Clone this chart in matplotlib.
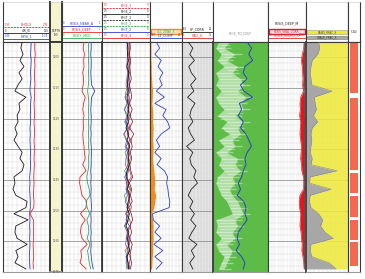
import numpy as np
import matplotlib
matplotlib.use('Agg')
import matplotlib.pyplot as plt
from matplotlib.patches import Rectangle

# ---------------- data ----------------
depth = np.arange(1195, 1271, 2)          # sample depths (m)
DTOP, DBOT = 1195, 1270
major_depths = [1200, 1210, 1220, 1230, 1240, 1250, 1260, 1270]

# track 1 (scale 0-150)
gr = [61,57,64,54,67,51,61,48,38,73, 51,54,45,48,38,45,35,48,61,54,
      67,61,35,38,32,41,77,73,35,80, 41,38,45,77,41,48,38,73]
t1_blue = [90,89,88,90,89,88,89,87,86,90, 88,88,87,88,86,87,86,87,88,87,
           88,87,85,86,85,86,87,87,85,86, 85,86,85,86,85,84,85,86]
t1_red = [102,101,103,101,102,100,101,102,100,101, 99,100,101,99,100,101,99,100,100,99,
          100,99,98,99,98,97,99,98,86,97, 98,97,98,96,97,98,96,97]

# track 3 (scale 0-100)
t3_red = [55,53,56,54,55,52,54,53,50,58, 54,52,55,53,54,52,53,55,56,58,
          52,60,45,44,47,50,62,60,46,58, 48,46,50,63,47,49,45,60]
t3_green = [67,66,67,66,67,66,67,66,64,66, 67,66,67,66,67,66,67,66,68,66,
            67,65,62,64,68,70,60,63,69,62, 66,67,63,70,64,66,68,72]
t3_blue = [73,73,72,73,73,72,73,74,82,74, 73,72,73,73,72,73,72,73,74,73,
           73,72,73,72,73,72,73,74,72,73, 72,73,72,73,72,73,75,78]

# track 4 (scale 0-100)
t4_black = [52,54,53,55,52,56,54,53,55,52, 54,56,53,55,50,56,52,58,54,55,
            57,52,50,56,53,58,55,52,57,54, 50,56,53,55,58,52,54,56]
t4_red = [56,57,55,58,56,57,55,58,53,57, 58,55,60,54,59,52,61,55,57,59,
          53,58,61,52,60,54,57,62,51,58, 60,53,59,56,52,60,57,55]
t4_green = [54,53,54,52,55,53,52,54,50,48, 52,46,55,47,53,45,50,56,48,52,
            55,47,53,50,58,46,52,55,49,57, 47,54,50,58,48,53,50,52]
t4_blue = [57,56,58,56,57,55,57,56,58,54, 56,52,57,51,55,53,58,50,56,54,
           57,55,52,57,51,56,58,53,55,50, 57,52,56,54,57,51,55,58]
t4_darkred = [58,59,57,60,58,59,61,57,60,62, 57,63,58,64,57,66,60,63,59,62,
              58,60,64,57,62,59,63,56,61,64, 58,62,57,63,60,58,62,59]
t4_purple = [53,52,54,53,51,54,52,50,54,48, 53,47,51,49,54,46,52,48,53,50,
             49,54,47,52,50,53,48,55,50,52, 47,53,51,49,55,50,52,54]

# track 5 (scale 0-100)
t5_blue = [20,30,15,35,25,40,30,38,20,45, 15,50,40,55,62,35,20,30,15,35,
           22,45,55,52,56,58,62,60,8,10, 30,15,35,12,40,15,38,20]
t5_orange = [3,3,3,3,4,4,5,6,8,7, 6,8,9,8,10,9,8,10,9,8,
             10,12,14,15,13,18,15,12,4,8, 10,9,10,8,9,7,6,5]

# track 6 (scale 0-100)
t6_black = [20,35,25,40,22,30,45,28,38,18, 42,30,25,35,20,28,40,15,35,25,
            30,45,38,50,30,20,35,25,40,28, 45,32,22,48,30,40,25,35]

# track 7 (scale 0-100)
t7_blue = [62,70,65,72,58,55,62,50,56,72, 48,52,46,55,50,60,65,70,62,58,
           60,55,52,46,50,44,56,60,58,62, 54,46,44,48,42,52,58,55]
t7_white_lo = [10,5,15,8,20,5,10,5,15,5, 10,20,8,25,15,30,10,20,5,15,
               10,20,8,5,10,15,25,30,35,5, 8,5,15,5,10,20,15,10]
t7_white_hi = [30,20,40,25,45,35,50,55,45,60, 50,55,40,55,45,50,35,40,25,45,
               40,50,35,40,30,35,45,50,55,40, 45,35,40,25,35,30,25,20]

# track 8 (scale 0-100)
t8_red = [95,94,90,88,90,91,92,91,93,86, 84,85,83,86,85,84,86,88,87,86,
          88,89,93,94,93,84,82,83,86,85, 84,87,88,90,89,92,94,95]
t8_base = [96,96,97,96,96,96,97,96,95,96, 96,96,96,97,96,96,96,96,97,96,
           96,96,96,96,97,96,96,96,96,96, 97,96,96,96,96,96,96,96]

# track 9 (scale 0-100)
t9_grey = [30,33,28,15,12,10,12,14,62,20, 22,25,18,28,15,12,14,12,10,15,
           12,74,10,8,60,10,8,12,30,40, 35,45,65,12,10,14,55,72]

# track 10 zones
zone_top = [1195.0, 1213.3, 1237.7, 1245.2, 1253.0, 1260.2]
zone_base = [1211.6, 1236.7, 1244.2, 1252.1, 1259.6, 1268.0]

# ---------------- layout ----------------
W, H = 365, 279
fig = plt.figure(figsize=(W / 100, H / 100), dpi=100)
fig.patch.set_facecolor('white')

tracks = [(3, 50), (50, 62), (62, 102), (102, 150), (150, 182),
          (182, 213), (213, 268), (268, 306), (306, 348), (348, 360)]
HEAD_TOP, HEAD_BOT, DATA_BOT = 2, 42, 272
BORDER = '#3a3a3a'
YEL = '#f6f3cf'
BLUE = '#2d3fc4'
RED = '#e3262b'
GREEN = '#2fa84a'
ORANGE = '#f28c1e'


def add_ax(x0, x1, y0, y1):
    return fig.add_axes([x0 / W, 1 - y1 / H, (x1 - x0) / W, (y1 - y0) / H])


def style_spines(ax, lw=0.8):
    for s in ax.spines.values():
        s.set_color(BORDER)
        s.set_linewidth(lw)


def data_ax(i, face='white', grid=True, xt=None, lw=0.8, vcol='#d9d9d9'):
    x0, x1 = tracks[i]
    ax = add_ax(x0, x1, HEAD_BOT, DATA_BOT)
    ax.set_facecolor(face)
    ax.set_xlim(0, 100)
    ax.set_ylim(DBOT, DTOP)
    ax.set_yticks(major_depths)
    ax.set_yticks(np.arange(1196, 1271, 2), minor=True)
    ax.set_xticks(range(0, 101, 10) if xt is None else xt)
    ax.tick_params(which='both', length=0, labelleft=False, labelbottom=False)
    ax.set_axisbelow(True)
    if grid:
        ax.grid(True, which='minor', axis='y', color='#dcdcdc', lw=0.35)
        ax.grid(True, which='major', axis='y', color='#8c8c8c', lw=0.55)
        ax.grid(True, which='major', axis='x', color=vcol, lw=0.35)
    style_spines(ax, lw)
    ax.spines['bottom'].set_color('#9a9a9a')
    return ax


def head_ax(i, face='white', lw=0.8):
    x0, x1 = tracks[i]
    ax = add_ax(x0, x1, HEAD_TOP, HEAD_BOT)
    ax.set_facecolor(face)
    ax.set_xlim(0, 1)
    ax.set_ylim(HEAD_BOT, HEAD_TOP)
    ax.set_xticks([])
    ax.set_yticks([])
    style_spines(ax, lw)
    ax.spines['top'].set_color('#c4c4c4')
    ax.spines['top'].set_linewidth(0.4)
    return ax


def entry(ax, y, name, color, dashed=False, lo='0', hi='1'):
    if dashed:
        ax.plot([0.02, 0.98], [y, y], color=color, lw=0.6, ls=(0, (2.5, 1.2)))
    else:
        ax.plot([0.02, 0.98], [y, y], color=color, lw=0.6)
    ax.text(0.5, y - 0.5, name, fontsize=2.3, color=color, ha='center', va='bottom')
    ax.text(0.03, y - 0.5, lo, fontsize=1.8, color=color, ha='left', va='bottom')
    ax.text(0.97, y - 0.5, hi, fontsize=1.8, color=color, ha='right', va='bottom')


# ---- track 1
h = head_ax(0)
entry(h, 27, 'RHOLX', RED, True, '1.95', '2.95')
entry(h, 33, 'GR_B', '#222222', False, '0', '150')
entry(h, 38.5, 'NPHI_1', BLUE, False, '0.45', '-0.15')
a = data_ax(0)
a.set_xlim(0, 150)
a.set_xticks(range(0, 151, 15))
a.plot(gr, depth, color='#1a1a1a', lw=0.6, zorder=3)
a.plot(t1_blue, depth, color=BLUE, lw=0.6, zorder=3)
a.plot(t1_red, depth, color=RED, lw=0.6, zorder=3)

# ---- depth track
h = head_ax(1, face=YEL, lw=1.4)
h.text(0.5, 33, 'DEPTH\n(M)', fontsize=2.0, color='#333333', ha='center', va='center',
       linespacing=1.0)
a = data_ax(1, face=YEL, grid=False, lw=1.4)
for d in major_depths:
    a.text(50, d, str(d), fontsize=2.0, color='#555555', ha='center', va='center')

# ---- track 3
h = head_ax(2)
entry(h, 26, 'RESIS_NEAR_A', BLUE)
entry(h, 32, 'RESIS_DEEP', RED)
entry(h, 38, 'RESIS_MED', GREEN)
a = data_ax(2)
a.spines['right'].set_linewidth(1.3)
a.plot(t3_red, depth, color=RED, lw=0.6, zorder=3)
a.plot(t3_green, depth, color=GREEN, lw=0.6, zorder=3)
a.plot(t3_blue, depth, color=BLUE, lw=0.6, zorder=3)

# ---- track 4
h = head_ax(3)
entry(h, 8, 'PHIE_1', RED, True, '0.5', '0')
entry(h, 14, 'PHIE_2', '#222222', False, '0.5', '0')
entry(h, 20, 'PHIT_1', '#222222', True, '0.5', '0')
entry(h, 26, 'PHIE_3', GREEN, True, '0.5', '0')
entry(h, 32, 'PHIT_2', BLUE, False, '0.5', '0')
entry(h, 37.5, 'PHIE_4', RED, False, '0.5', '0')
a = data_ax(3)
a.plot(t4_green, depth, color=GREEN, lw=0.5, zorder=3)
a.plot(t4_purple, depth, color='#8a3fa8', lw=0.5, zorder=3)
a.plot(t4_blue, depth, color=BLUE, lw=0.5, zorder=3)
a.plot(t4_red, depth, color=RED, lw=0.5, zorder=3)
a.plot(t4_darkred, depth, color='#7a1010', lw=0.5, zorder=3)
a.plot(t4_black, depth, color='#111111', lw=0.6, zorder=3)

# ---- track 5
h = head_ax(4)
h.add_patch(Rectangle((0.02, 29.2), 0.96, 4.6, facecolor='#fde2c4', edgecolor=ORANGE, lw=1.0))
h.text(0.5, 31.5, 'VCL_ZONE_X', fontsize=2.1, color=GREEN, ha='center', va='center')
entry(h, 38, 'DT_COMP', BLUE, False, '140', '40')
a = data_ax(4)
a.fill_betweenx(depth, 0, t5_orange, color=ORANGE, lw=0, zorder=2)
a.plot(t5_blue, depth, color=BLUE, lw=0.6, zorder=3)

# ---- track 6
h = head_ax(5)
entry(h, 32, 'SP_CORR', '#222222', False, '-80', '20')
entry(h, 37.5, 'CALI_X', RED, False, '6', '16')
a = data_ax(5, face='#e4e4e4', vcol='#c8c8c8')
a.plot(t6_black, depth, color='#222222', lw=0.6, zorder=3)

# ---- track 7
h = head_ax(6)
h.text(0.5, 33, 'PHIE_TO_DIST', fontsize=2.3, color='#8a8a8a', ha='center', va='center')
a = data_ax(6, face='#5dbb48', grid=False)
a.fill_betweenx(depth, t7_white_lo, t7_white_hi, color='white', alpha=0.5, lw=0, zorder=1)
a.hlines(depth, t7_white_lo, [hi + 12 for hi in t7_white_hi], color='white',
         lw=1.0, alpha=0.4, zorder=1.5)
a.hlines(depth + 1, [lo + 5 for lo in t7_white_lo], t7_white_hi, color='white',
         lw=0.8, alpha=0.35, zorder=1.5)
a.plot(t7_blue, depth, color=BLUE, lw=0.7, zorder=3)
a.spines['left'].set_linewidth(1.3)

# ---- track 8 (log-type grid)
logpos = []
for dec in range(4):
    for m in (1, 2, 3, 5):
        logpos.append(100 * (dec + np.log10(m)) / 4)
logpos.append(100)
h = head_ax(7)
h.text(0.5, 25, 'RESIS_DEEP_M', fontsize=2.3, color='#222222', ha='center', va='bottom')
h.add_patch(Rectangle((0.02, 29.0), 0.96, 4.6, facecolor='#fbe1e6', edgecolor='#d0213a', lw=1.0))
h.text(0.5, 31.3, 'RESIS_SHAL_CORR', fontsize=2.0, color='#d0213a', ha='center', va='center')
entry(h, 38, 'RESIS_MICRO_X', RED, False, '0.2', '2000')
a = data_ax(7, xt=logpos, vcol='#e2e2e2')
a.fill_betweenx(depth, t8_red, t8_base, color='#e8141c', lw=0, zorder=2)
a.plot(t8_red, depth, color='#a01010', lw=0.4, zorder=3)
a.plot(t8_base, depth, color='#555555', lw=0.5, zorder=3)

# ---- track 9
h = head_ax(8)
h.add_patch(Rectangle((0.02, 30.0), 0.96, 3.8, facecolor='#ecea3a', edgecolor='#999999', lw=0.4))
h.text(0.5, 31.9, 'SAND_FRAC_X', fontsize=2.0, color='#444444', ha='center', va='center')
h.add_patch(Rectangle((0.02, 35.6), 0.96, 3.8, facecolor='#a9a9a9', edgecolor='#777777', lw=0.4))
h.text(0.5, 37.5, 'SHALE_FRAC_X', fontsize=2.0, color='#333333', ha='center', va='center')
a = data_ax(8)
a.fill_betweenx(depth, 0, t9_grey, color='#a7a7a7', lw=0, zorder=2)
a.fill_betweenx(depth, t9_grey, 98, color='#ece93c', alpha=0.88, lw=0, zorder=2)
a.plot(t9_grey, depth, color='#8a8a8a', lw=0.4, zorder=3)
a.spines['left'].set_linewidth(1.3)

# ---- track 10
h = head_ax(9)
h.text(0.5, 32, 'FLAG', fontsize=1.9, color='#333333', ha='center', va='center')
a = data_ax(9, grid=False)
a.barh(zone_top, 70, height=[b - t for t, b in zip(zone_top, zone_base)],
       left=15, align='edge', color='#f1694f', lw=0, zorder=1)

fig.savefig('out.png', dpi=100, facecolor='white')
